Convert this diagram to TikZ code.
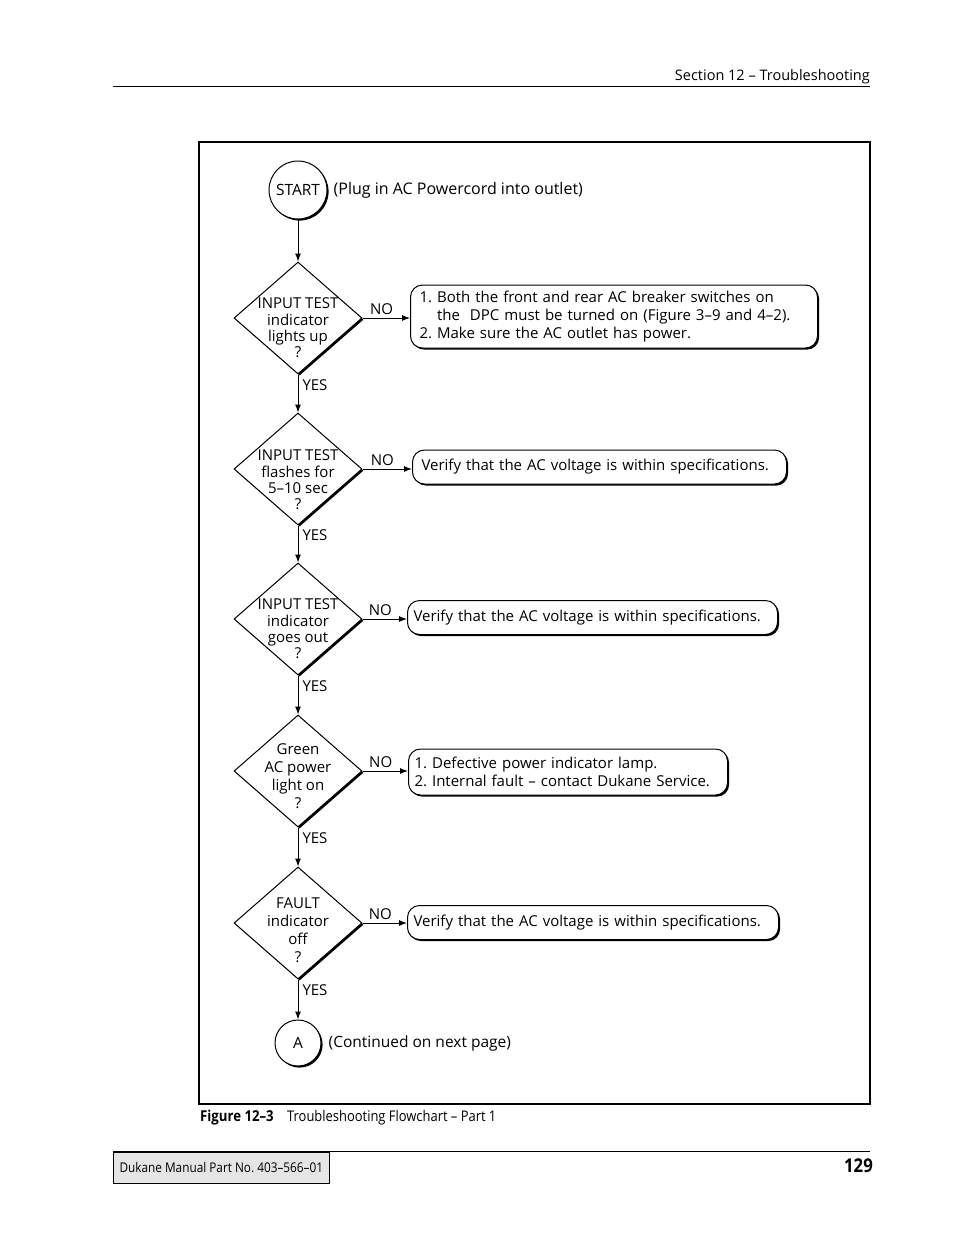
\documentclass[tikz,border=0pt]{standalone}
\usepackage{fontspec}
\setmainfont{Open Sans}
\newfontfamily\condfont[FakeStretch=0.88,Ligatures=TeX]{Open Sans}
\usetikzlibrary{shapes.geometric,arrows.meta,shadows,positioning}
\frenchspacing
\hyphenpenalty=10000

\tikzset{
  shade box/.style={drop shadow={shadow xshift=1.6pt,shadow yshift=-1.6pt,opacity=1,fill=black}},
  dia/.style={diamond, draw, line width=1pt, fill=white, minimum width=128pt,
    minimum height=112pt, inner sep=0pt, shade box},
  diatext/.style={align=center, inner sep=0pt, font=\fontsize{15}{16.3}\selectfont},
  term/.style={circle, draw, line width=1pt, fill=white, inner sep=0pt,
    font=\fontsize{15.5}{18}\selectfont, shade box},
  answer/.style={draw, line width=1pt, fill=white, rounded corners=12pt, anchor=west,
    align=left, inner xsep=7pt, inner ysep=0pt, minimum height=34pt,
    font=\fontsize{15}{18}\selectfont, shade box},
  note/.style={inner sep=0pt, font=\fontsize{15.5}{18}\selectfont},
  arr/.style={line width=1pt, -{Latex[length=8pt,width=6pt]}},
  yes/.style={anchor=west, inner sep=4pt, pos=0.27, font=\fontsize{15}{16}\selectfont},
  no/.style={anchor=south, inner sep=3pt, pos=0.4, font=\fontsize{15}{16}\selectfont}
}

\begin{document}
\begin{tikzpicture}[x=1pt, y=-1pt]
  \useasboundingbox (0,0) rectangle (954,1235);
  % page header
  \node[anchor=base east, inner sep=0pt, font=\fontsize{14.5}{16}\selectfont] (head) at (870,80) {Section 12 -- Troubleshooting};
  \draw[line width=0.8pt] (113,86) -- (870,86);
  % figure frame
  \draw[line width=2pt] (199,142) rectangle (870,1104);

  % flowchart
  \node[term, minimum size=58pt] (start) at (298,190) {START};
  \node[note, right=6pt of start, font=\fontsize{16}{18}\selectfont] (plug) {(Plug in AC Powercord into outlet)};

  \node[dia] (d1) at (298,318) {};
  \node[diatext, yshift=-10pt] (t1) at (d1) {INPUT TEST\\indicator\\lights up\\?};
  \node[dia] (d2) at (298,469) {};
  \node[diatext, yshift=-11pt] (t2) at (d2) {INPUT TEST\\flashes for\\5--10 sec\\?};
  \node[dia] (d3) at (298,619) {};
  \node[diatext, yshift=-10pt] (t3) at (d3) {INPUT TEST\\indicator\\goes out\\?};
  \node[dia] (d4) at (298,771) {};
  \node[diatext, yshift=-5pt, font=\fontsize{15}{18}\selectfont] (t4) at (d4) {Green\\AC power\\light on\\?};
  \node[dia] (d5) at (298,923) {};
  \node[diatext, yshift=-7pt, font=\fontsize{15}{18}\selectfont] (t5) at (d5) {FAULT\\indicator\\off\\?};

  \node[term, minimum size=46pt] (A) at (298,1043) {A};
  \node[note, right=7pt of A] (cont) {(Continued on next page)};

  \node[answer, text width=389pt, inner xsep=9pt, minimum height=63pt] (b1) at (410,316.5)
    {1. Both the front and rear AC breaker switches on\\
     \hphantom{1. }the\ \ DPC must be turned on (Figure 3--9 and 4--2).\\
     2. Make sure the AC outlet has power.};
  \node[answer, text width=356pt, inner xsep=9pt] (b2) at (412,467) {Verify that the AC voltage is within specifications.};
  \node[answer, text width=358pt, inner xsep=6pt] (b3) at (407,617.5) {Verify that the AC voltage is within specifications.};
  \node[answer, text width=307pt, inner xsep=6pt, minimum height=46pt] (b4) at (408,772)
    {1. Defective power indicator lamp.\\2. Internal fault -- contact Dukane Service.};
  \node[answer, text width=359pt, inner xsep=6pt] (b5) at (407,922.5) {Verify that the AC voltage is within specifications.};

  \draw[arr] (start) -- (d1);
  \draw[arr] (d1) -- node[yes] {YES} (d2);
  \draw[arr] (d2) -- node[yes] {YES} (d3);
  \draw[arr] (d3) -- node[yes] {YES} (d4);
  \draw[arr] (d4) -- node[yes] {YES} (d5);
  \draw[arr] (d5) -- node[yes] {YES} (A);
  \draw[arr] (d1.east) -- node[no] {NO} (d1.east -| b1.west);
  \draw[arr] (d2.east) -- node[no] {NO} (d2.east -| b2.west);
  \draw[arr] (d3.east) -- node[no] {NO} (d3.east -| b3.west);
  \draw[arr] (d4.east) -- node[no] {NO} (d4.east -| b4.west);
  \draw[arr] (d5.east) -- node[no] {NO} (d5.east -| b5.west);

  % caption
  \node[anchor=base west, inner sep=0pt, font=\condfont\bfseries\fontsize{15}{16}\selectfont] (fig) at (200,1121) {Figure 12--3};
  \node[anchor=base west, inner sep=0pt, font=\condfont\fontsize{14.7}{16}\selectfont] (cap) at (287,1121) {Troubleshooting Flowchart -- Part 1};

  % page footer
  \draw[line width=0.8pt] (113,1151) -- (870,1151);
  \node[draw, line width=0.6pt, fill=black!10, anchor=north west, minimum width=216pt, minimum height=31pt,
    inner sep=0pt, font=\condfont\fontsize{13.4}{15}\selectfont] (foot) at (113,1152) {Dukane Manual Part No. 403--566--01};
  \node[anchor=base east, inner sep=0pt, font=\condfont\bfseries\fontsize{19}{20}\selectfont] (page) at (873,1172) {129};
\end{tikzpicture}
\end{document}
